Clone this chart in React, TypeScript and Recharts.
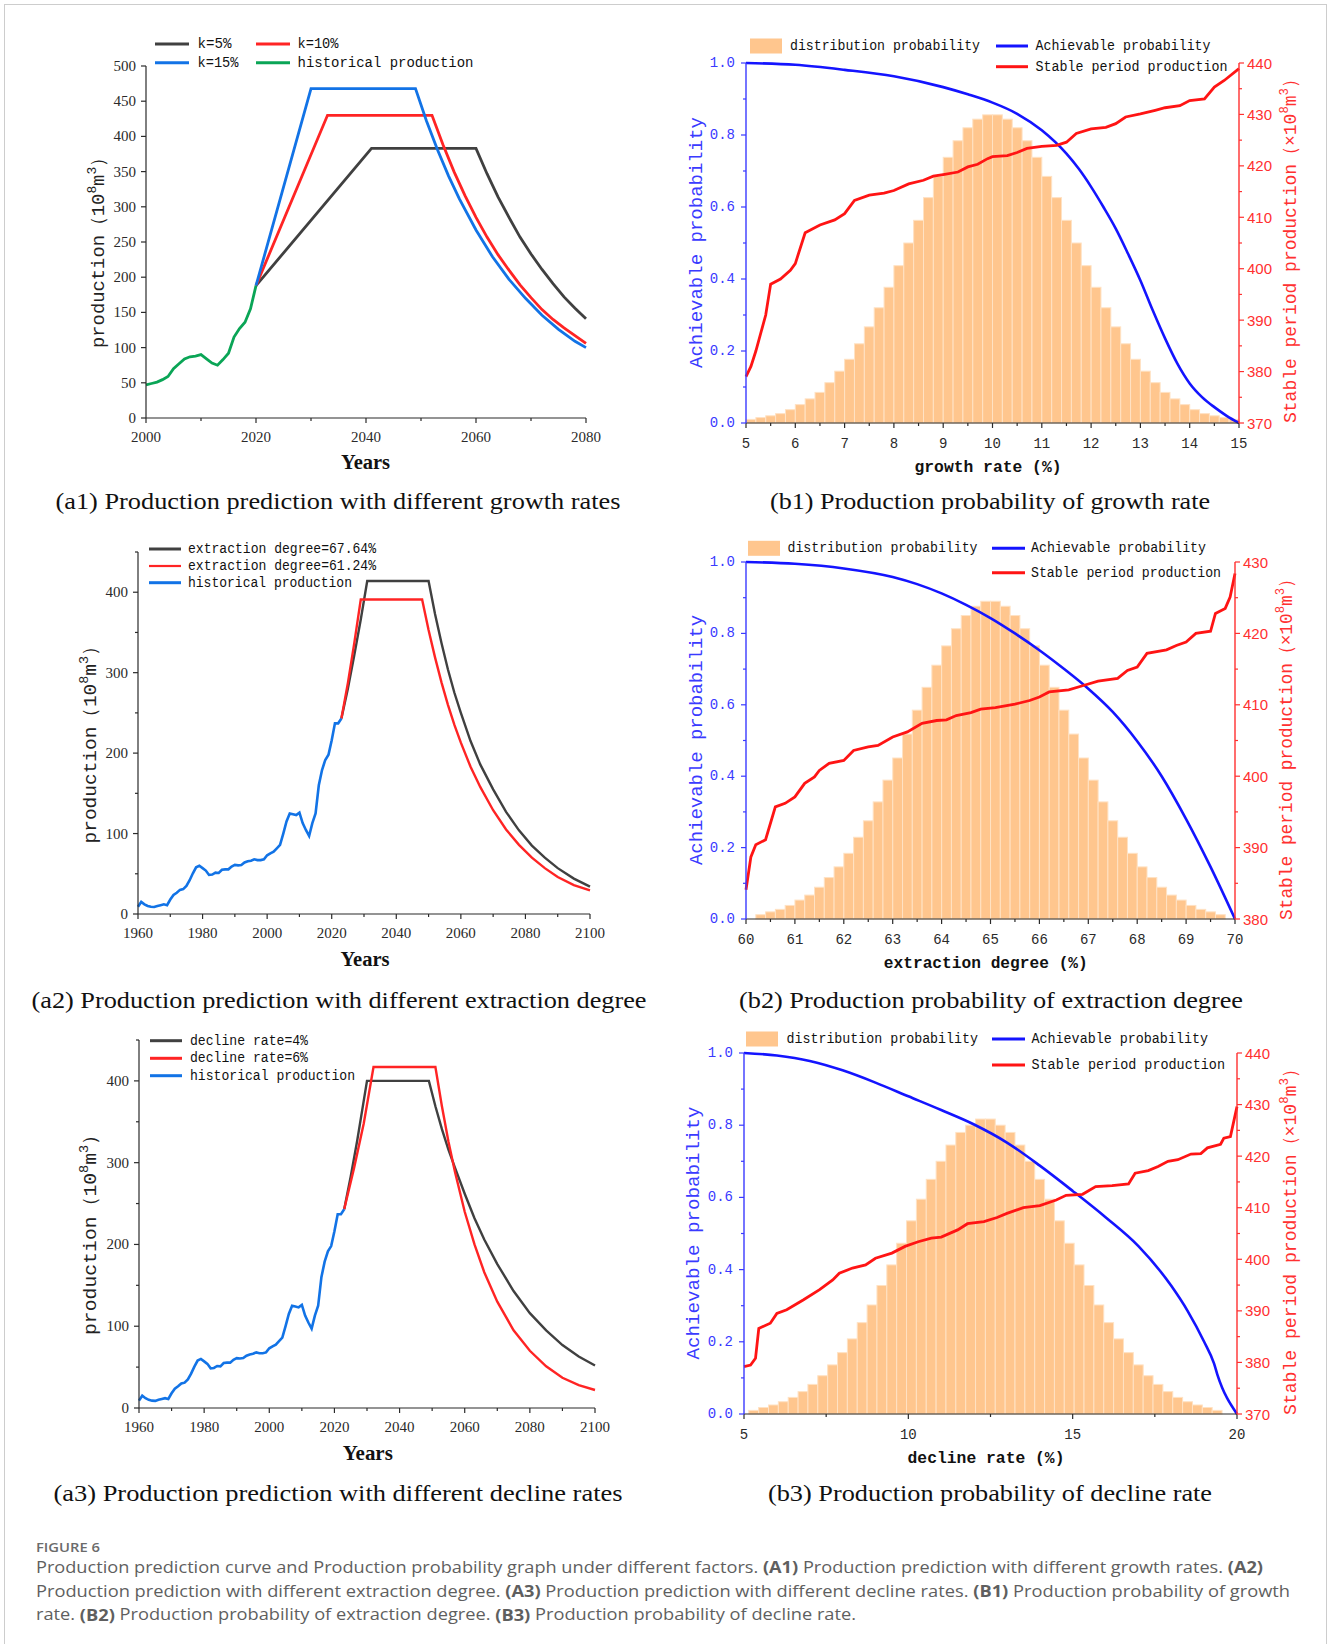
import React from "react";
import { LineChart, ComposedChart, Line, Bar, XAxis, YAxis } from "recharts";

// ---------- (a1) production with different growth rates ----------
const a1HistYears = [2000, 2001, 2002, 2003, 2004, 2005, 2006, 2007, 2008, 2009, 2010, 2011, 2012, 2013, 2014, 2015, 2016, 2017, 2018, 2019, 2020];
const a1HistProd = [47, 49, 51, 54.5, 59, 70, 77, 84, 87, 88, 90, 84, 78, 75, 83, 92, 115, 127, 136, 155, 188];
const a1K5Years = [2020, 2041, 2060, 2062, 2064, 2066, 2068, 2070, 2072, 2074, 2076, 2078, 2080];
const a1K5Prod = [188, 383, 383, 347, 314, 285, 257, 233, 211, 191, 172, 156, 141];
const a1K10Years = [2020, 2033, 2052, 2054, 2056, 2058, 2060, 2062, 2064, 2066, 2068, 2070, 2072, 2074, 2076, 2078, 2080];
const a1K10Prod = [188, 430, 430, 388, 350, 316, 285, 257, 232, 210, 189, 171, 154, 140, 128, 117, 106];
const a1K15Years = [2020, 2030, 2049, 2051, 2053, 2055, 2057, 2060, 2063, 2066, 2069, 2072, 2075, 2078, 2080];
const a1K15Prod = [188, 468, 468, 422, 381, 344, 311, 267, 229, 197, 170, 146, 126, 109, 100];

// ---------- (a2)/(a3) shared historical production ----------
const histYears = [
  1960, 1961, 1962, 1963, 1964, 1965, 1966, 1967, 1968, 1969,
  1970, 1971, 1972, 1973, 1974, 1975, 1976, 1977, 1978, 1979,
  1980, 1981, 1982, 1983, 1984, 1985, 1986, 1987, 1988, 1989,
  1990, 1991, 1992, 1993, 1994, 1995, 1996, 1997, 1998, 1999,
  2000, 2001, 2002, 2003, 2004, 2005, 2006, 2007, 2008, 2009,
  2010, 2011, 2012, 2013, 2014, 2015, 2016, 2017, 2018, 2019,
  2020, 2021, 2022, 2023,
];
const histProd = [
  9, 15, 12, 10, 9, 8.7, 10, 11, 12, 11,
  18, 23.6, 26.5, 30, 31, 35, 42, 50.6, 58, 60,
  57, 54, 48.5, 49, 51.4, 51, 55, 55.5, 55.5, 59,
  61, 60.5, 61, 64, 65.5, 66.3, 68, 67, 67, 68,
  73, 75.4, 77.5, 81.7, 86, 100, 115, 125, 124, 123,
  126, 113, 104.5, 97, 113, 125, 160, 179, 191.5, 198,
  216, 237, 237, 243,
];

// (a2) extraction degree scenarios
const a2Hi67Years = [2023, 2025, 2027, 2029, 2031, 2050, 2052, 2054, 2056, 2058, 2060, 2063, 2066, 2070, 2074, 2078, 2082, 2086, 2090, 2095, 2100];
const a2Hi67Prod = [243, 280, 322, 366, 414, 414, 373, 337, 304, 275, 250, 215, 186, 155, 127, 104, 85, 70, 57, 44, 34];
const a2Lo61Years = [2023, 2025, 2027, 2029, 2048, 2050, 2052, 2054, 2056, 2058, 2060, 2063, 2066, 2070, 2074, 2078, 2082, 2086, 2090, 2095, 2100];
const a2Lo61Prod = [243, 287, 337, 391, 391, 353, 319, 288, 260, 235, 213, 183, 158, 129, 105, 86, 70, 57, 46, 36, 29.5];

// (a3) decline rate scenarios
const a3D4Years = [2023, 2025, 2027, 2030, 2049, 2051, 2053, 2055, 2057, 2060, 2063, 2066, 2070, 2075, 2080, 2085, 2090, 2095, 2100];
const a3D4Prod = [243, 283, 327, 400, 400, 369, 341, 316, 294, 262, 232, 206, 176, 143, 116, 95, 77, 63, 52];
const a3D6Years = [2023, 2026, 2029, 2032, 2051, 2053, 2055, 2057, 2060, 2063, 2066, 2070, 2075, 2080, 2085, 2090, 2095, 2100];
const a3D6Prod = [243, 293, 348, 417, 417, 369, 326, 289, 240, 200, 166, 130, 95, 70, 51, 37, 28, 22];

// ---------- (b1) growth rate probability ----------
const b1Bins = [
  5.1, 5.3, 5.5, 5.7, 5.9, 6.1, 6.3, 6.5, 6.7, 6.9, 7.1, 7.3, 7.5, 7.7, 7.9, 8.1, 8.3, 8.5, 8.7, 8.9,
  9.1, 9.3, 9.5, 9.7, 9.9, 10.1, 10.3, 10.5, 10.7, 10.9, 11.1, 11.3, 11.5, 11.7, 11.9, 12.1, 12.3, 12.5, 12.7, 12.9,
  13.1, 13.3, 13.5, 13.7, 13.9, 14.1, 14.3, 14.5, 14.7, 14.9,
];
const b1Dist = [
  0.01, 0.015, 0.02, 0.026, 0.037, 0.051, 0.067, 0.085, 0.112, 0.144, 0.177, 0.22, 0.267, 0.32, 0.377, 0.437, 0.5, 0.563, 0.626, 0.685,
  0.738, 0.784, 0.82, 0.844, 0.856, 0.856, 0.844, 0.82, 0.784, 0.738, 0.685, 0.626, 0.563, 0.5, 0.437, 0.377, 0.32, 0.267, 0.22, 0.177,
  0.144, 0.112, 0.085, 0.067, 0.051, 0.037, 0.026, 0.02, 0.015, 0.01,
];
const b1AchX = [5, 6, 7, 8, 9, 9.5, 10, 10.5, 11, 11.5, 11.75, 12, 12.25, 12.5, 12.75, 13, 13.25, 13.5, 13.75, 14, 14.25, 14.5, 14.75, 15];
const b1AchY = [1.0, 0.995, 0.981, 0.963, 0.933, 0.913, 0.89, 0.859, 0.813, 0.748, 0.706, 0.656, 0.6, 0.54, 0.47, 0.396, 0.313, 0.235, 0.165, 0.11, 0.072, 0.044, 0.02, 0.0];
const b1StableX = [5.0, 5.1, 5.2, 5.4, 5.5, 5.7, 5.9, 6.0, 6.2, 6.5, 6.8, 7.0, 7.2, 7.5, 7.8, 8.0, 8.3, 8.6, 8.8, 9.0, 9.3, 9.5, 9.7, 9.9, 10.0, 10.3, 10.5, 10.7, 11.0, 11.3, 11.5, 11.7, 12.0, 12.3, 12.5, 12.7, 13.0, 13.3, 13.5, 13.8, 14.0, 14.3, 14.5, 14.7, 15.0];
const b1StableY = [379, 381, 384, 391, 397, 398, 399.7, 401, 407, 408.5, 409.5, 410.7, 413.3, 414.3, 414.7, 415.2, 416.5, 417.2, 418, 418.3, 418.8, 419.8, 420.3, 421.4, 421.8, 422, 422.6, 423.4, 423.8, 424, 424.6, 426.3, 427.2, 427.5, 428.2, 429.5, 430.1, 430.8, 431.3, 431.7, 432.7, 433, 435.3, 436.6, 438.9];

// ---------- (b2) extraction degree probability ----------
const b2Bins = [
  60.1, 60.3, 60.5, 60.7, 60.9, 61.1, 61.3, 61.5, 61.7, 61.9, 62.1, 62.3, 62.5, 62.7, 62.9, 63.1, 63.3, 63.5, 63.7, 63.9,
  64.1, 64.3, 64.5, 64.7, 64.9, 65.1, 65.3, 65.5, 65.7, 65.9, 66.1, 66.3, 66.5, 66.7, 66.9, 67.1, 67.3, 67.5, 67.7, 67.9,
  68.1, 68.3, 68.5, 68.7, 68.9, 69.1, 69.3, 69.5, 69.7, 69.9,
];
const b2Dist = [
  0.0, 0.012, 0.02, 0.027, 0.038, 0.053, 0.067, 0.089, 0.116, 0.146, 0.184, 0.229, 0.275, 0.328, 0.389, 0.451, 0.518, 0.585, 0.649, 0.711,
  0.765, 0.813, 0.85, 0.876, 0.89, 0.89, 0.876, 0.85, 0.813, 0.765, 0.711, 0.649, 0.585, 0.518, 0.451, 0.389, 0.328, 0.275, 0.229, 0.184,
  0.146, 0.116, 0.089, 0.067, 0.053, 0.038, 0.027, 0.02, 0.012, 0.0,
];
const b2AchX = [60, 61, 62, 63, 63.5, 64, 64.5, 65, 65.5, 66, 66.5, 67, 67.5, 68, 68.5, 69, 69.5, 70];
const b2AchY = [1.0, 0.995, 0.982, 0.958, 0.938, 0.912, 0.88, 0.843, 0.8, 0.753, 0.701, 0.645, 0.58, 0.498, 0.4, 0.28, 0.146, 0.0];
const b2StableX = [60.0, 60.1, 60.2, 60.4, 60.6, 60.8, 61.0, 61.2, 61.4, 61.5, 61.7, 62.0, 62.2, 62.5, 62.7, 63.0, 63.3, 63.6, 63.9, 64.1, 64.3, 64.6, 64.8, 65.1, 65.5, 65.8, 66.0, 66.2, 66.6, 66.9, 67.2, 67.6, 67.8, 68.0, 68.2, 68.6, 68.8, 69.0, 69.2, 69.5, 69.6, 69.8, 69.9, 70.0];
const b2StableY = [384.1, 388.7, 390.4, 391.1, 395.7, 396.2, 397.1, 399, 399.9, 400.8, 401.8, 402.2, 403.6, 404.1, 404.3, 405.5, 406.2, 407.4, 407.8, 407.9, 408.5, 408.9, 409.4, 409.6, 410.1, 410.6, 411.1, 411.8, 412.1, 412.7, 413.3, 413.7, 414.8, 415.3, 417.2, 417.7, 418.3, 418.8, 420, 420.3, 422.8, 423.5, 425.1, 428.4];

// ---------- (b3) decline rate probability ----------
const b3Bins = [
  5.3, 5.6, 5.9, 6.2, 6.5, 6.8, 7.1, 7.4, 7.7, 8.0, 8.3, 8.6, 8.9, 9.2, 9.5, 9.8, 10.1, 10.4, 10.7, 11.0, 11.3, 11.6, 11.9, 12.2,
  12.5, 12.8, 13.1, 13.4, 13.7, 14.0, 14.3, 14.6, 14.9, 15.2, 15.5, 15.8, 16.1, 16.4, 16.7, 17.0, 17.3, 17.6, 17.9, 18.2, 18.5, 18.8, 19.1, 19.4,
];
const b3Dist = [
  0.01, 0.018, 0.025, 0.034, 0.046, 0.062, 0.082, 0.106, 0.136, 0.17, 0.208, 0.253, 0.302, 0.356, 0.413, 0.473, 0.535, 0.595, 0.65, 0.7, 0.745, 0.78, 0.8, 0.817,
  0.817, 0.8, 0.78, 0.745, 0.7, 0.65, 0.595, 0.535, 0.473, 0.413, 0.356, 0.302, 0.253, 0.208, 0.17, 0.136, 0.106, 0.082, 0.062, 0.046, 0.034, 0.025, 0.018, 0.01,
];
const b3AchX = [5, 6, 7, 8, 9, 10, 11, 12, 13, 14, 15, 16, 17, 18, 18.5, 19, 19.3, 19.4, 20];
const b3AchY = [1.0, 0.993, 0.978, 0.952, 0.918, 0.88, 0.842, 0.802, 0.752, 0.688, 0.618, 0.545, 0.465, 0.355, 0.285, 0.2, 0.14, 0.11, 0.0];
const b3StableX = [5.0, 5.2, 5.35, 5.45, 5.8, 6.0, 6.3, 6.8, 7.3, 7.7, 7.9, 8.3, 8.7, 9.0, 9.5, 9.9, 10.3, 10.7, 11.0, 11.5, 11.8, 12.3, 12.7, 13.0, 13.5, 14.0, 14.5, 14.8, 15.3, 15.7, 16.2, 16.7, 16.9, 17.3, 17.6, 17.9, 18.2, 18.6, 18.9, 19.1, 19.5, 19.6, 19.8, 20.0];
const b3StableY = [379.2, 379.5, 380.8, 386.6, 387.6, 389.5, 390.2, 392.1, 394.1, 396, 397.3, 398.3, 398.9, 400.2, 401.2, 402.5, 403.4, 404.1, 404.3, 405.7, 406.9, 407.3, 408.1, 408.9, 410, 410.4, 411.5, 412.4, 412.6, 414.1, 414.3, 414.6, 416.7, 417.2, 418, 419, 419.3, 420.4, 420.5, 421.6, 422.3, 423.5, 423.8, 429.6];

// ---------- ticks ----------
const a1XTicks = [2000, 2010, 2020, 2030, 2040, 2050, 2060, 2070, 2080];
const a1XLabels = [2000, 2020, 2040, 2060, 2080];
const a1YTicks = [0, 50, 100, 150, 200, 250, 300, 350, 400, 450, 500];
const longXTicks = [1960, 1970, 1980, 1990, 2000, 2010, 2020, 2030, 2040, 2050, 2060, 2070, 2080, 2090, 2100];
const longXLabels = [1960, 1980, 2000, 2020, 2040, 2060, 2080, 2100];
const longYTicks = [0, 50, 100, 150, 200, 250, 300, 350, 400, 450];
const longYLabels = [0, 100, 200, 300, 400];
const probTicks = [0, 0.1, 0.2, 0.3, 0.4, 0.5, 0.6, 0.7, 0.8, 0.9, 1.0];
const probLabels = [0, 0.2, 0.4, 0.6, 0.8, 1.0];
const b1XTicks = [5, 5.5, 6, 6.5, 7, 7.5, 8, 8.5, 9, 9.5, 10, 10.5, 11, 11.5, 12, 12.5, 13, 13.5, 14, 14.5, 15];
const b1XLabels = [5, 6, 7, 8, 9, 10, 11, 12, 13, 14, 15];
const b2XTicks = [60, 60.5, 61, 61.5, 62, 62.5, 63, 63.5, 64, 64.5, 65, 65.5, 66, 66.5, 67, 67.5, 68, 68.5, 69, 69.5, 70];
const b2XLabels = [60, 61, 62, 63, 64, 65, 66, 67, 68, 69, 70];
const b3XTicks = [5, 7.5, 10, 12.5, 15, 17.5, 20];
const b3XLabels = [5, 10, 15, 20];
const r370Ticks = [370, 375, 380, 385, 390, 395, 400, 405, 410, 415, 420, 425, 430, 435, 440];
const r370Labels = [370, 380, 390, 400, 410, 420, 430, 440];
const r380Ticks = [380, 385, 390, 395, 400, 405, 410, 415, 420, 425, 430];
const r380Labels = [380, 390, 400, 410, 420, 430];

const pts = (xs: number[], ys: number[]) => xs.map((x, i) => ({ x, y: ys[i] }));

const serif = "'Liberation Serif', 'Times New Roman', serif";
const mono = "'Liberation Mono', 'DejaVu Sans Mono', monospace";
const sans = "'Liberation Sans', Arial, sans-serif";
const capFont = "'Open Sans', 'Noto Sans', sans-serif";

const AX = "#2a2a2a";
const BLUE_AX = "#3a3aff";
const RED_AX = "#ff3030";

const PAD_L = 60;
const PAD_R = 60;
const PAD_T = 12;
const PAD_B = 34;

type Box = { x0: number; x1: number; y0: number; y1: number };
const wrap = (b: Box): React.CSSProperties => ({ position: "absolute", left: b.x0 - PAD_L, top: b.y0 - PAD_T });
const bw = (b: Box) => b.x1 - b.x0 + PAD_L + PAD_R;
const bh = (b: Box) => b.y1 - b.y0 + PAD_T + PAD_B;

type TickCfg = {
  side: "bottom" | "left" | "right";
  labels: number[];
  color: string;
  font: string;
  size: number;
  digits?: number;
  gap: number;
};

const makeTick = (c: TickCfg) => (props: any) => {
  const { x, y, payload } = props;
  const v = payload.value as number;
  const lab = c.labels.some((m) => Math.abs(m - v) < 1e-6);
  const len = lab ? 5 : 3;
  const txt = c.digits != null ? v.toFixed(c.digits) : String(v);
  const common = { fontFamily: c.font, fontSize: c.size, fill: c.color, dominantBaseline: "central" as const };
  if (c.side === "bottom") {
    return (
      <g>
        <line x1={x} y1={y} x2={x} y2={y + len} stroke={c.color} strokeWidth={1.2} />
        {lab && <text x={x} y={y + c.gap} textAnchor="middle" {...common}>{txt}</text>}
      </g>
    );
  }
  if (c.side === "left") {
    return (
      <g>
        <line x1={x - len} y1={y} x2={x} y2={y} stroke={c.color} strokeWidth={1.2} />
        {lab && <text x={x - c.gap} y={y} textAnchor="end" {...common}>{txt}</text>}
      </g>
    );
  }
  return (
    <g>
      <line x1={x} y1={y} x2={x + len} y2={y} stroke={c.color} strokeWidth={1.2} />
      {lab && <text x={x + c.gap} y={y} textAnchor="start" {...common}>{txt}</text>}
    </g>
  );
};

// histogram bar drawn at a fixed pixel width around the bin centre
const BAR = "#FFC68E";
const barShape = (w: number) => (props: any) => {
  const { x, y, width, height } = props;
  if (!height || height <= 0) return <g />;
  const cx = x + width / 2;
  return <rect x={cx - w / 2} y={y} width={w} height={height} fill={BAR} stroke="#FFE2C4" strokeWidth={1} />;
};

type Series = { data: { x: number; y: number }[]; color: string; w: number };

function ScenarioPanel(p: {
  box: Box;
  xDomain: [number, number];
  xTicks: number[];
  xLabels: number[];
  yDomain: [number, number];
  yTicks: number[];
  yLabels: number[];
  series: Series[];
}) {
  return (
    <div style={wrap(p.box)}>
      <LineChart width={bw(p.box)} height={bh(p.box)} margin={{ top: PAD_T, right: PAD_R, bottom: 0, left: 0 }}>
        <XAxis
          type="number"
          dataKey="x"
          domain={p.xDomain}
          ticks={p.xTicks}
          interval={0}
          height={PAD_B}
          tickSize={0}
          tickMargin={0}
          tickLine={false}
          axisLine={{ stroke: AX, strokeWidth: 1.2 }}
          tick={makeTick({ side: "bottom", labels: p.xLabels, color: AX, font: serif, size: 15, gap: 19 })}
        />
        <YAxis
          type="number"
          domain={p.yDomain}
          ticks={p.yTicks}
          interval={0}
          width={PAD_L}
          tickSize={0}
          tickMargin={0}
          tickLine={false}
          axisLine={{ stroke: AX, strokeWidth: 1.2 }}
          tick={makeTick({ side: "left", labels: p.yLabels, color: AX, font: serif, size: 15, gap: 10 })}
        />
        {p.series.map((s, i) => (
          <Line
            key={i}
            data={s.data}
            dataKey="y"
            type="linear"
            stroke={s.color}
            strokeWidth={s.w}
            dot={false}
            activeDot={false}
            isAnimationActive={false}
          />
        ))}
      </LineChart>
    </div>
  );
}

function ProbPanel(p: {
  box: Box;
  bins: number[];
  dist: number[];
  barW: number;
  ach: { x: number; y: number }[];
  stable: { x: number; y: number }[];
  xDomain: [number, number];
  xTicks: number[];
  xLabels: number[];
  rDomain: [number, number];
  rTicks: number[];
  rLabels: number[];
}) {
  const data = p.bins.map((x, i) => ({ x, p: p.dist[i] }));
  return (
    <div style={wrap(p.box)}>
      <ComposedChart width={bw(p.box)} height={bh(p.box)} data={data} margin={{ top: PAD_T, right: 0, bottom: 0, left: 0 }}>
        <XAxis
          type="number"
          dataKey="x"
          domain={p.xDomain}
          ticks={p.xTicks}
          interval={0}
          height={PAD_B}
          tickSize={0}
          tickMargin={0}
          tickLine={false}
          axisLine={{ stroke: AX, strokeWidth: 1.2 }}
          tick={makeTick({ side: "bottom", labels: p.xLabels, color: AX, font: mono, size: 14, gap: 21 })}
        />
        <YAxis
          yAxisId="l"
          type="number"
          domain={[0, 1]}
          ticks={probTicks}
          interval={0}
          width={PAD_L}
          tickSize={0}
          tickMargin={0}
          tickLine={false}
          axisLine={{ stroke: BLUE_AX, strokeWidth: 1.4 }}
          tick={makeTick({ side: "left", labels: probLabels, color: BLUE_AX, font: mono, size: 14, digits: 1, gap: 11 })}
        />
        <YAxis
          yAxisId="r"
          orientation="right"
          type="number"
          domain={p.rDomain}
          ticks={p.rTicks}
          interval={0}
          width={PAD_R}
          tickSize={0}
          tickMargin={0}
          tickLine={false}
          axisLine={{ stroke: RED_AX, strokeWidth: 1.4 }}
          tick={makeTick({ side: "right", labels: p.rLabels, color: RED_AX, font: sans, size: 15, gap: 8 })}
        />
        <Bar yAxisId="l" dataKey="p" fill={BAR} shape={barShape(p.barW)} isAnimationActive={false} />
        <Line yAxisId="l" data={p.ach} dataKey="y" type="monotone" stroke="#1414ff" strokeWidth={2.6} dot={false} activeDot={false} isAnimationActive={false} />
        <Line yAxisId="r" data={p.stable} dataKey="y" type="linear" stroke="#ff1414" strokeWidth={2.8} dot={false} activeDot={false} isAnimationActive={false} />
      </ComposedChart>
    </div>
  );
}

// ---------- overlay text helpers ----------
function T(p: { x: number; y: number; w?: number; size: number; font: string; fill?: string; weight?: string | number; anchor?: "start" | "middle" | "end"; children: React.ReactNode }) {
  return (
    <text
      x={p.x}
      y={p.y}
      fontFamily={p.font}
      fontSize={p.size}
      fill={p.fill ?? "#111"}
      fontWeight={p.weight ?? "normal"}
      textAnchor={p.anchor ?? "start"}
      dominantBaseline="central"
      textLength={p.w}
      lengthAdjust={p.w ? "spacingAndGlyphs" : undefined}
    >
      {p.children}
    </text>
  );
}

function VText(p: { cx: number; cy: number; len: number; color: string; children: React.ReactNode }) {
  return (
    <text
      x={p.cx}
      y={p.cy}
      transform={`rotate(-90 ${p.cx} ${p.cy})`}
      textAnchor="middle"
      dominantBaseline="central"
      fontFamily={mono}
      fontSize={19}
      fill={p.color}
      textLength={p.len}
      lengthAdjust="spacingAndGlyphs"
    >
      {p.children}
    </text>
  );
}

function VLabel(p: { cx: number; cy: number; len: number; color: string; prefix: string }) {
  return (
    <VText cx={p.cx} cy={p.cy} len={p.len} color={p.color}>
      {p.prefix}
      <tspan dy={-7} fontSize={13}>8</tspan>
      <tspan dy={7}>m</tspan>
      <tspan dy={-7} fontSize={13}>3</tspan>
      <tspan dy={7}>）</tspan>
    </VText>
  );
}

type LegItem = { kind: "line" | "rect"; x1: number; x2: number; y: number; color: string; w: number; text: string; tx: number; tw: number };

function Legend(p: { items: LegItem[]; size: number }) {
  return (
    <g>
      {p.items.map((it, i) => (
        <g key={i}>
          {it.kind === "line" ? (
            <line x1={it.x1} y1={it.y} x2={it.x2} y2={it.y} stroke={it.color} strokeWidth={it.w} />
          ) : (
            <rect x={it.x1} y={it.y - 7.5} width={it.x2 - it.x1} height={15} fill={it.color} />
          )}
          <T x={it.tx} y={it.y} w={it.tw} size={p.size} font={mono}>{it.text}</T>
        </g>
      ))}
    </g>
  );
}

const BOX_A1: Box = { x0: 146, x1: 586, y0: 66, y1: 418 };
const BOX_B1: Box = { x0: 746, x1: 1239, y0: 63, y1: 423 };
const BOX_A2: Box = { x0: 138, x1: 590, y0: 552, y1: 914 };
const BOX_B2: Box = { x0: 746, x1: 1235, y0: 562, y1: 919 };
const BOX_A3: Box = { x0: 139, x1: 595, y0: 1040, y1: 1408 };
const BOX_B3: Box = { x0: 744, x1: 1237, y0: 1053, y1: 1414 };

const C_DARK = "#404040";
const C_RED = "#ff2424";
const C_BLUE = "#1273e6";
const C_GREEN = "#0aa556";
const B_BLUE = "#1414ff";
const B_RED = "#ff1414";

function probLegend(y1: number, y2: number, sw: [number, number], tx0: number, tw0: number, lx: [number, number], tx: number, tw1: number, tw2: number): LegItem[] {
  return [
    { kind: "rect", x1: sw[0], x2: sw[1], y: y1, color: BAR, w: 0, text: "distribution probability", tx: tx0, tw: tw0 },
    { kind: "line", x1: lx[0], x2: lx[1], y: y1, color: B_BLUE, w: 3, text: "Achievable probability", tx, tw: tw1 },
    { kind: "line", x1: lx[0], x2: lx[1], y: y2, color: B_RED, w: 3, text: "Stable period production", tx, tw: tw2 },
  ];
}

export default function App() {
  return (
    <div style={{ position: "absolute", left: 0, top: 0, width: 1328, height: 1644, background: "#fff", overflow: "hidden" }}>
      <div style={{ position: "absolute", left: 4, top: 4, width: 1321, height: 1700, border: "1px solid #cdcdcd" }} />

      <ScenarioPanel
        box={BOX_A1}
        xDomain={[2000, 2080]}
        xTicks={a1XTicks}
        xLabels={a1XLabels}
        yDomain={[0, 500]}
        yTicks={a1YTicks}
        yLabels={a1YTicks}
        series={[
          { data: pts(a1K5Years, a1K5Prod), color: C_DARK, w: 2.8 },
          { data: pts(a1K10Years, a1K10Prod), color: C_RED, w: 2.8 },
          { data: pts(a1K15Years, a1K15Prod), color: C_BLUE, w: 2.8 },
          { data: pts(a1HistYears, a1HistProd), color: C_GREEN, w: 2.8 },
        ]}
      />
      <ProbPanel
        box={BOX_B1}
        bins={b1Bins}
        dist={b1Dist}
        barW={9.85}
        ach={pts(b1AchX, b1AchY)}
        stable={pts(b1StableX, b1StableY)}
        xDomain={[5, 15]}
        xTicks={b1XTicks}
        xLabels={b1XLabels}
        rDomain={[370, 440]}
        rTicks={r370Ticks}
        rLabels={r370Labels}
      />
      <ScenarioPanel
        box={BOX_A2}
        xDomain={[1960, 2100]}
        xTicks={longXTicks}
        xLabels={longXLabels}
        yDomain={[0, 450]}
        yTicks={longYTicks}
        yLabels={longYLabels}
        series={[
          { data: pts(a2Hi67Years, a2Hi67Prod), color: C_DARK, w: 2.4 },
          { data: pts(a2Lo61Years, a2Lo61Prod), color: C_RED, w: 2.4 },
          { data: pts(histYears, histProd), color: C_BLUE, w: 2.6 },
        ]}
      />
      <ProbPanel
        box={BOX_B2}
        bins={b2Bins}
        dist={b2Dist}
        barW={9.78}
        ach={pts(b2AchX, b2AchY)}
        stable={pts(b2StableX, b2StableY)}
        xDomain={[60, 70]}
        xTicks={b2XTicks}
        xLabels={b2XLabels}
        rDomain={[380, 430]}
        rTicks={r380Ticks}
        rLabels={r380Labels}
      />
      <ScenarioPanel
        box={BOX_A3}
        xDomain={[1960, 2100]}
        xTicks={longXTicks}
        xLabels={longXLabels}
        yDomain={[0, 450]}
        yTicks={longYTicks}
        yLabels={longYLabels}
        series={[
          { data: pts(a3D4Years, a3D4Prod), color: C_DARK, w: 2.4 },
          { data: pts(a3D6Years, a3D6Prod), color: C_RED, w: 2.4 },
          { data: pts(histYears, histProd), color: C_BLUE, w: 2.6 },
        ]}
      />
      <ProbPanel
        box={BOX_B3}
        bins={b3Bins}
        dist={b3Dist}
        barW={9.86}
        ach={pts(b3AchX, b3AchY)}
        stable={pts(b3StableX, b3StableY)}
        xDomain={[5, 20]}
        xTicks={b3XTicks}
        xLabels={b3XLabels}
        rDomain={[370, 440]}
        rTicks={r370Ticks}
        rLabels={r370Labels}
      />

      <svg width={1328} height={1644} style={{ position: "absolute", left: 0, top: 0, pointerEvents: "none" }}>
        {/* legends */}
        <Legend
          size={14}
          items={[
            { kind: "line", x1: 155, x2: 189, y: 44, color: C_DARK, w: 3, text: "k=5%", tx: 197.5, tw: 34 },
            { kind: "line", x1: 256, x2: 290, y: 44, color: C_RED, w: 3, text: "k=10%", tx: 297.5, tw: 41 },
            { kind: "line", x1: 155, x2: 189, y: 62.7, color: C_BLUE, w: 3, text: "k=15%", tx: 197.5, tw: 41 },
            { kind: "line", x1: 256, x2: 290, y: 62.7, color: C_GREEN, w: 3, text: "historical production", tx: 297.5, tw: 176 },
          ]}
        />
        <Legend size={14} items={probLegend(46, 66.7, [750, 782], 790, 190, [996, 1028], 1035.5, 175, 192)} />
        <Legend
          size={14}
          items={[
            { kind: "line", x1: 149, x2: 181, y: 549, color: C_DARK, w: 3, text: "extraction degree=67.64%", tx: 188, tw: 188 },
            { kind: "line", x1: 149, x2: 181, y: 566, color: C_RED, w: 2.2, text: "extraction degree=61.24%", tx: 188, tw: 188 },
            { kind: "line", x1: 149, x2: 181, y: 582.7, color: C_BLUE, w: 3, text: "historical production", tx: 188, tw: 164 },
          ]}
        />
        <Legend size={14} items={probLegend(548.3, 572.7, [748, 780], 787.5, 190, [992, 1025], 1031, 175, 190)} />
        <Legend
          size={14}
          items={[
            { kind: "line", x1: 150, x2: 182, y: 1040.7, color: C_DARK, w: 3, text: "decline rate=4%", tx: 190, tw: 118 },
            { kind: "line", x1: 150, x2: 182, y: 1058.3, color: C_RED, w: 3, text: "decline rate=6%", tx: 190, tw: 118 },
            { kind: "line", x1: 150, x2: 182, y: 1075.7, color: C_BLUE, w: 3, text: "historical production", tx: 190, tw: 165 },
          ]}
        />
        <Legend size={14} items={probLegend(1039, 1065, [746, 778], 786.5, 191.5, [992, 1025], 1031.5, 176.5, 193.5)} />

        {/* y-axis titles */}
        <VLabel cx={98.8} cy={248} len={200} color="#222" prefix="production（10" />
        <VLabel cx={90.5} cy={740} len={207} color="#222" prefix="production（10" />
        <VLabel cx={90.5} cy={1230} len={210} color="#222" prefix="production（10" />
        <VText cx={697} cy={242.5} len={251} color={BLUE_AX}>Achievable probability</VText>
        <VText cx={697} cy={740} len={250} color={BLUE_AX}>Achievable probability</VText>
        <VText cx={694} cy={1233} len={253} color={BLUE_AX}>Achievable probability</VText>
        <VLabel cx={1290.8} cy={246.5} len={353} color={RED_AX} prefix="Stable period production（×10" />
        <VLabel cx={1286.7} cy={745} len={350} color={RED_AX} prefix="Stable period production（×10" />
        <VLabel cx={1290.8} cy={1237.5} len={355} color={RED_AX} prefix="Stable period production（×10" />

        {/* x-axis titles */}
        <T x={365.6} y={461.7} size={20} font={serif} weight="bold" anchor="middle" w={49}>Years</T>
        <T x={365} y={959.3} size={20} font={serif} weight="bold" anchor="middle" w={49}>Years</T>
        <T x={367.8} y={1452.7} size={20} font={serif} weight="bold" anchor="middle" w={50}>Years</T>
        <T x={988} y={468.3} size={16} font={mono} weight="bold" anchor="middle" w={147}>growth rate (%)</T>
        <T x={985.8} y={964} size={16} font={mono} weight="bold" anchor="middle" w={204}>extraction degree (%)</T>
        <T x={986} y={1459.3} size={16} font={mono} weight="bold" anchor="middle" w={157}>decline rate (%)</T>

        {/* panel captions */}
        <T x={338} y={501} size={24} font={serif} anchor="middle" w={565}>(a1) Production prediction with different growth rates</T>
        <T x={990} y={501} size={24} font={serif} anchor="middle" w={440}>(b1) Production probability of growth rate</T>
        <T x={339} y={1000} size={24} font={serif} anchor="middle" w={615}>(a2) Production prediction with different extraction degree</T>
        <T x={991} y={1000} size={24} font={serif} anchor="middle" w={504}>(b2) Production probability of extraction degree</T>
        <T x={338} y={1492.5} size={24} font={serif} anchor="middle" w={569}>(a3) Production prediction with different decline rates</T>
        <T x={990} y={1492.5} size={24} font={serif} anchor="middle" w={444}>(b3) Production probability of decline rate</T>

        {/* figure caption */}
        <T x={36} y={1547} size={13} font={capFont} weight={600} fill="#6b6b6b" w={64}>FIGURE 6</T>
        <T x={36} y={1566} size={16.5} font={capFont} fill="#5f5f5f" w={1227}>
          Production prediction curve and Production probability graph under different factors. <tspan fontWeight="bold">(A1)</tspan> Production prediction with different growth rates. <tspan fontWeight="bold">(A2)</tspan>
        </T>
        <T x={36} y={1590} size={16.5} font={capFont} fill="#5f5f5f" w={1254}>
          Production prediction with different extraction degree. <tspan fontWeight="bold">(A3)</tspan> Production prediction with different decline rates. <tspan fontWeight="bold">(B1)</tspan> Production probability of growth
        </T>
        <T x={36} y={1613.5} size={16.5} font={capFont} fill="#5f5f5f" w={820}>
          rate. <tspan fontWeight="bold">(B2)</tspan> Production probability of extraction degree. <tspan fontWeight="bold">(B3)</tspan> Production probability of decline rate.
        </T>
      </svg>
    </div>
  );
}
